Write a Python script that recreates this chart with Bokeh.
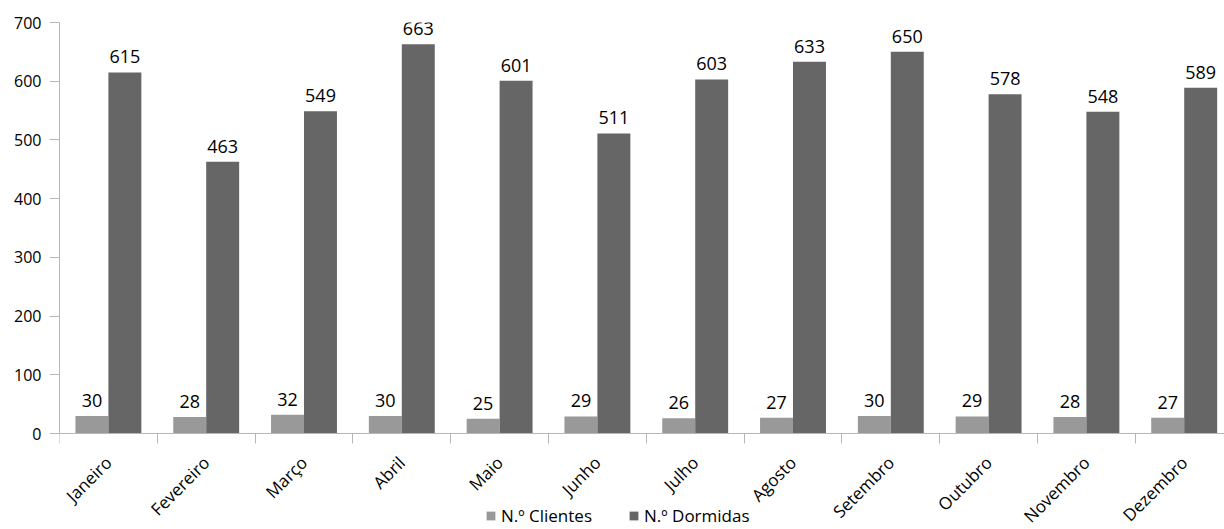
import numpy as np
from bokeh.plotting import figure
from bokeh.models import ColumnDataSource, FixedTicker, Range1d, Legend, LegendItem, CustomJSTickFormatter
from bokeh.embed import file_html
from bokeh.resources import INLINE
from bokeh.core.properties import value

months = ["Janeiro", "Fevereiro", "Março", "Abril", "Maio", "Junho",
          "Julho", "Agosto", "Setembro", "Outubro", "Novembro", "Dezembro"]
clientes = [30, 28, 32, 30, 25, 29, 26, 27, 30, 29, 28, 27]
dormidas = [615, 463, 549, 663, 601, 511, 603, 633, 650, 578, 548, 589]
y_ticks = [0, 100, 200, 300, 400, 500, 600, 700]

FONT = "Open Sans"
C1 = "#999999"
C2 = "#666666"
AX = "#b7b7b7"

W, H = 1224, 529
TOP, AXIS_Y, LEFT = 22, 433, 59
CAT_PX = 97.8          # width of one month slot in the reference, px
YMAX = 700
ymin = -YMAX * (H - AXIS_Y) / (AXIS_Y - TOP)
xmax = (W - LEFT) / CAT_PX   # the reference's plot area runs past the right edge

n = len(months)
idx = np.arange(n)
bw = 0.337
src = ColumnDataSource(dict(
    x1=idx + 0.5 - bw / 2,
    x2=idx + 0.5 + bw / 2,
    c=clientes, d=dormidas,
    cl=[str(v) for v in clientes], dl=[str(v) for v in dormidas],
))

p = figure(width=W, height=H, output_backend="svg", toolbar_location=None,
           x_range=Range1d(0, xmax), y_range=Range1d(ymin, YMAX),
           min_border_left=LEFT, min_border_right=0, min_border_top=TOP, min_border_bottom=0)

r1 = p.vbar(x="x1", top="c", width=bw, source=src, color=C1, line_color=None)
r2 = p.vbar(x="x2", top="d", width=bw, source=src, color=C2, line_color=None)

for xcol, ycol, tcol in (("x1", "c", "cl"), ("x2", "d", "dl")):
    p.text(x=xcol, y=ycol, text=tcol, source=src, text_align="center",
           text_baseline="bottom", y_offset=-9, text_font=value(FONT),
           text_font_size="18px", text_color="#000000")

p.outline_line_color = None
p.xgrid.visible = False
p.ygrid.ticker = FixedTicker(ticks=[YMAX])
p.ygrid.grid_line_color = AX
p.ygrid.grid_line_width = 1

# y axis
p.yaxis.ticker = FixedTicker(ticks=y_ticks)
p.yaxis.bounds = (0, YMAX)
p.yaxis.axis_line_color = AX
p.yaxis.major_tick_line_color = AX
p.yaxis.major_tick_in = 0
p.yaxis.major_tick_out = 10
p.yaxis.minor_tick_line_color = None
p.yaxis.major_label_text_font = FONT
p.yaxis.major_label_text_font_size = "16px"
p.yaxis.major_label_text_color = "#000000"
p.yaxis.major_label_standoff = 8

# x axis, pinned at y = 0
p.xaxis.fixed_location = 0
p.xaxis.ticker = FixedTicker(ticks=list(idx + 0.5), minor_ticks=list(range(n + 1)))
p.xaxis.formatter = CustomJSTickFormatter(args=dict(labels=months),
                                          code="return labels[Math.floor(tick)];")
p.xaxis.axis_line_color = AX
p.xaxis.major_tick_line_color = None
p.xaxis.minor_tick_line_color = AX
p.xaxis.minor_tick_in = 0
p.xaxis.minor_tick_out = 10
p.xaxis.major_label_orientation = np.pi / 4
p.xaxis.major_label_text_font = FONT
p.xaxis.major_label_text_font_size = "17px"
p.xaxis.major_label_text_color = "#000000"
p.xaxis.major_label_standoff = 16

legend = Legend(items=[LegendItem(label="N.º Clientes", renderers=[r1]),
                       LegendItem(label="N.º Dormidas", renderers=[r2])],
                orientation="horizontal", location=(426, 2),
                label_text_font=FONT, label_text_font_size="17px",
                label_text_color="#000000", glyph_width=11, glyph_height=11,
                spacing=36, padding=0, margin=0, label_standoff=5,
                background_fill_alpha=0, border_line_color=None)
p.add_layout(legend, "center")

open("out.html", "w").write(file_html(p, INLINE))
